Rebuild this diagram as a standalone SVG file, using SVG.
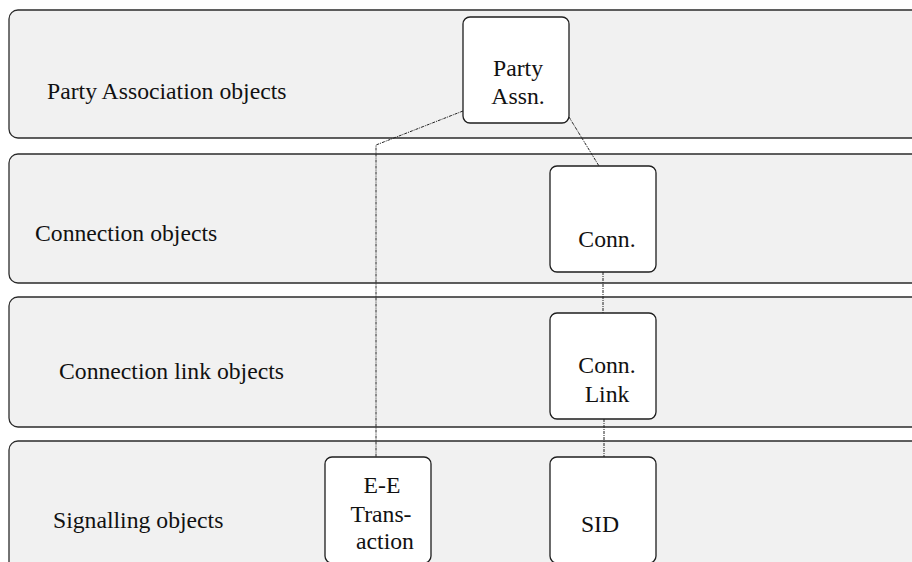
<svg xmlns="http://www.w3.org/2000/svg" width="912" height="562" viewBox="0 0 912 562">
  <style>
    .band { fill: #f1f1f1; stroke: #2b2b2b; stroke-width: 1.3; }
    .node { fill: #ffffff; stroke: #1e1e1e; stroke-width: 1.3; }
    .label { font-family: "Liberation Serif", "Times New Roman", serif; font-size: 23.7px; fill: #111111; }
    .mid { text-anchor: middle; }
    .link { fill: none; stroke: #222222; stroke-width: 1; stroke-dasharray: 3 1 1 1; }
  </style>
  <rect width="912" height="562" fill="#ffffff"/>

  <!-- layer bands -->
  <g id="layer-party-association">
    <rect class="band" x="9" y="10" width="920" height="128" rx="9"/>
    <text class="label" x="47" y="99">Party Association objects</text>
  </g>
  <g id="layer-connection">
    <rect class="band" x="9" y="154" width="920" height="129" rx="9"/>
    <text class="label" x="35" y="241">Connection objects</text>
  </g>
  <g id="layer-connection-link">
    <rect class="band" x="9" y="297" width="920" height="130" rx="9"/>
    <text class="label" x="59" y="379">Connection link objects</text>
  </g>
  <g id="layer-signalling">
    <rect class="band" x="9" y="441" width="920" height="140" rx="9"/>
    <text class="label" x="53" y="528">Signalling objects</text>
  </g>

  <!-- connectors -->
  <g id="connectors">
    <polyline class="link" points="463,111 376,145 376,457"/>
    <line class="link" x1="569" y1="117" x2="599" y2="166"/>
    <line class="link" x1="603" y1="272" x2="603" y2="313"/>
    <line class="link" x1="604" y1="419" x2="604" y2="457"/>
  </g>

  <!-- object nodes -->
  <g id="node-party-assn">
    <rect class="node" x="463" y="17" width="106" height="106" rx="7"/>
    <text class="label mid" x="518" y="76">Party</text>
    <text class="label mid" x="518" y="104">Assn.</text>
  </g>
  <g id="node-conn">
    <rect class="node" x="550" y="166" width="106" height="106" rx="7"/>
    <text class="label mid" x="607" y="247">Conn.</text>
  </g>
  <g id="node-conn-link">
    <rect class="node" x="550" y="313" width="106" height="106" rx="7"/>
    <text class="label mid" x="607" y="373">Conn.</text>
    <text class="label mid" x="607" y="402">Link</text>
  </g>
  <g id="node-e-e-transaction">
    <rect class="node" x="325" y="457" width="106" height="106" rx="7"/>
    <text class="label mid" x="382" y="493">E-E</text>
    <text class="label mid" x="381" y="522">Trans-</text>
    <text class="label mid" x="385" y="549">action</text>
  </g>
  <g id="node-sid">
    <rect class="node" x="550" y="457" width="106" height="106" rx="7"/>
    <text class="label mid" x="600" y="532">SID</text>
  </g>
</svg>
